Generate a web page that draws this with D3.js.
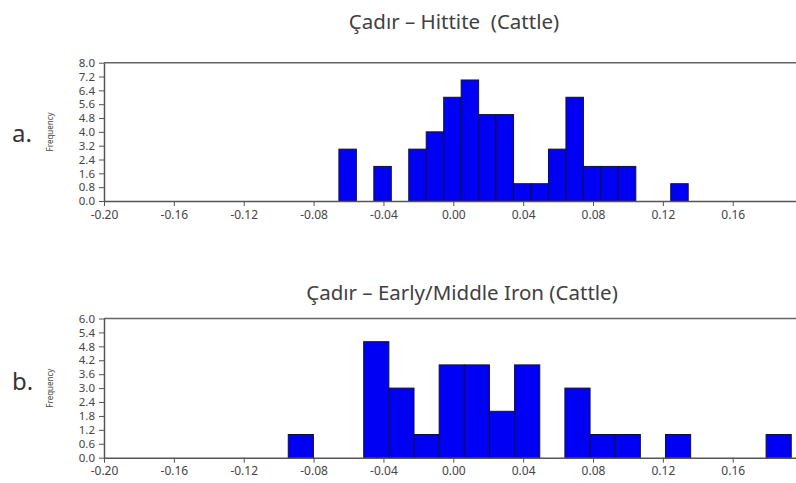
<!DOCTYPE html>
<html>
<head>
<meta charset="utf-8">
<script src="https://cdn.jsdelivr.net/npm/d3@7"></script>
<style>
  html, body { margin: 0; padding: 0; background: #fff; }
  svg { display: block; }
  text { font-family: "Noto Sans", "Open Sans", sans-serif; }
</style>
</head>
<body>
<svg id="chart" width="796" height="483"></svg>
<script>
// Histogram bins: start of first bin, bin width, and counts per bin
const hittiteBinStart = -0.0655;
const hittiteBinWidth = 0.01;
const hittiteCounts = [3, 0, 2, 0, 3, 4, 6, 7, 5, 5, 1, 1, 3, 6, 2, 2, 2, 0, 0, 1];

const ironBinStart = -0.0945;
const ironBinWidth = 0.0144;
const ironCounts = [1, 0, 0, 5, 3, 1, 4, 4, 2, 4, 0, 3, 1, 1, 0, 1, 0, 0, 0, 1];

const xTicks = [-0.20, -0.16, -0.12, -0.08, -0.04, 0.00, 0.04, 0.08, 0.12, 0.16];
const hittiteYTicks = [0.0, 0.8, 1.6, 2.4, 3.2, 4.0, 4.8, 5.6, 6.4, 7.2, 8.0];
const ironYTicks = [0.0, 0.6, 1.2, 1.8, 2.4, 3.0, 3.6, 4.2, 4.8, 5.4, 6.0];

const panels = [
  { letter: "a.", title: "Çadır – Hittite  (Cattle)", start: hittiteBinStart, width: hittiteBinWidth,
    counts: hittiteCounts, yTicks: hittiteYTicks, yMax: 8.0, top: 62.7, bottom: 201, titleY: 29, titleX: 454, letterY: 142 },
  { letter: "b.", title: "Çadır – Early/Middle Iron (Cattle)", start: ironBinStart, width: ironBinWidth,
    counts: ironCounts, yTicks: ironYTicks, yMax: 6.0, top: 318.5, bottom: 457.7, titleY: 300, titleX: 462, letterY: 390 }
];

const svg = d3.select("#chart");
const left = 104, right = 802.6;

panels.forEach(p => {
  const g = svg.append("g");
  const x = d3.scaleLinear().domain([-0.20, 0.20]).range([left, right]);
  const y = d3.scaleLinear().domain([0, p.yMax]).range([p.bottom, p.top]);

  // title
  g.append("text").attr("x", p.titleX).attr("y", p.titleY)
    .attr("text-anchor", "middle").attr("font-size", 20.5).attr("fill", "#404040")
    .style("white-space", "pre")
    .text(p.title);

  // panel letter
  g.append("text").attr("x", 12).attr("y", p.letterY)
    .attr("font-size", 24).attr("fill", "#333").text(p.letter);

  // y-axis label
  g.append("text")
    .attr("transform", `translate(53,${(p.top + p.bottom) / 2}) rotate(-90)`)
    .attr("text-anchor", "middle").attr("font-size", 8).attr("fill", "#444")
    .text("Frequency");

  // bars
  const bins = p.counts.map((c, i) => ({ x0: p.start + i * p.width, x1: p.start + (i + 1) * p.width, c }));
  g.selectAll("rect.bar").data(bins.filter(d => d.c > 0)).join("rect")
    .attr("class", "bar")
    .attr("x", d => x(d.x0))
    .attr("width", d => x(d.x1) - x(d.x0))
    .attr("y", d => y(d.c))
    .attr("height", d => y(0) - y(d.c))
    .attr("fill", "#0000f5")
    .attr("stroke", "#10103a")
    .attr("stroke-width", 1);

  // frame top line
  g.append("line").attr("x1", left).attr("x2", 796).attr("y1", p.top).attr("y2", p.top)
    .attr("stroke", "#666").attr("stroke-width", 1.5);

  // x axis
  const xAxis = d3.axisBottom(x).tickValues(xTicks).tickSize(5).tickSizeOuter(0)
    .tickFormat(d3.format(".2f"));
  const gx = g.append("g").attr("transform", `translate(0,${p.bottom})`).call(xAxis);
  gx.select(".domain").attr("stroke", "#555").attr("stroke-width", 1.5);
  gx.selectAll(".tick line").attr("stroke", "#555");
  gx.selectAll(".tick text").attr("font-size", 12).attr("fill", "#444").attr("dy", "0.8em")
    .attr("font-family", "Noto Sans")
    .text(d => d3.format(".2f")(d).replace("−", "-"));

  // y axis
  const yAxis = d3.axisLeft(y).tickValues(p.yTicks).tickSize(5).tickSizeOuter(0)
    .tickFormat(d3.format(".1f"));
  const gy = g.append("g").attr("transform", `translate(${left},0)`).call(yAxis);
  gy.select(".domain").attr("stroke", "#555").attr("stroke-width", 1.5);
  gy.selectAll(".tick line").attr("stroke", "#555");
  gy.selectAll(".tick text").attr("font-size", 11.5).attr("fill", "#444").attr("x", -9)
    .attr("font-family", "Noto Sans");
});
</script>
</body>
</html>
